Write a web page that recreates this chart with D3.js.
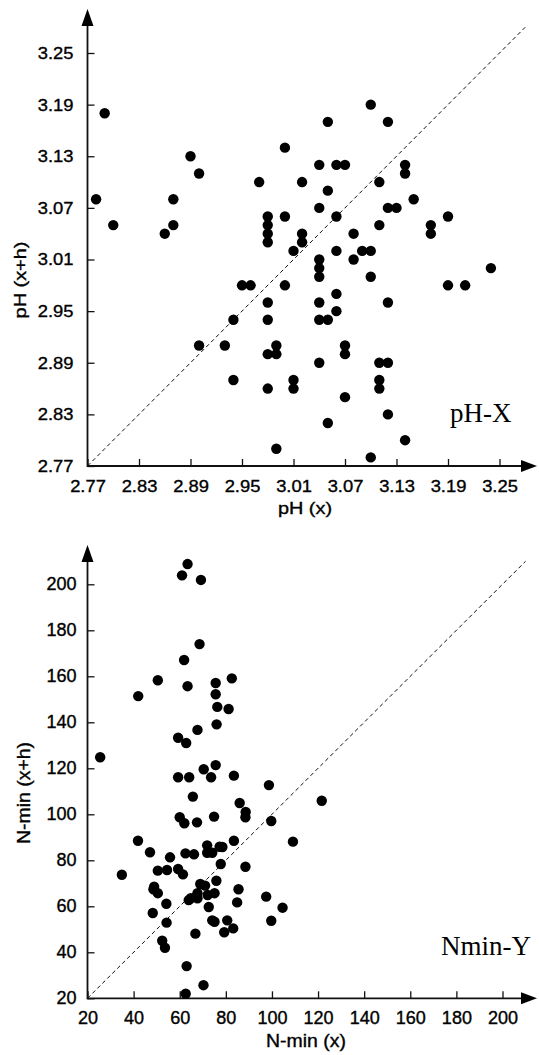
<!DOCTYPE html>
<html>
<head>
<meta charset="utf-8">
<script src="https://cdn.jsdelivr.net/npm/d3@7"></script>
<style>
  body { margin: 0; background: #fff; }
  svg { display: block; }
</style>
</head>
<body>
<div id="chart"></div>
<script>
// pH: measured value (x) vs value with lag h (x+h)
const phX  = [2.79,2.78,2.89,2.90,2.87,2.97,3.00,3.02,3.04,3.06,3.07,3.05,3.05,3.10,3.12,3.11,3.14,3.14,3.15,
              2.80,2.86,2.87,2.98,2.98,2.98,2.98,3.00,3.04,3.06,3.02,3.02,3.01,3.06,3.08,3.11,3.12,3.13,3.17,3.17,3.19,
              3.09,3.10,3.08,3.04,3.04,3.04,3.10,3.24,2.95,2.96,3.00,3.19,3.21,3.06,2.98,3.04,3.12,3.06,2.98,3.04,3.05,2.94,
              2.90,2.93,2.99,2.98,2.99,3.07,3.07,3.04,3.11,3.12,2.94,3.01,3.11,2.98,3.01,3.11,3.07,3.05,3.12,3.14,2.99,3.10];
const phXH = [3.18,3.08,3.13,3.11,3.08,3.10,3.14,3.10,3.12,3.12,3.12,3.17,3.09,3.19,3.17,3.10,3.12,3.11,3.08,
              3.05,3.04,3.05,3.06,3.05,3.04,3.03,3.06,3.07,3.06,3.04,3.03,3.02,3.02,3.04,3.05,3.07,3.07,3.05,3.04,3.06,
              3.02,3.02,3.01,3.01,3.00,2.99,2.99,3.00,2.98,2.98,2.98,2.98,2.98,2.97,2.96,2.96,2.96,2.95,2.94,2.94,2.94,2.94,
              2.91,2.91,2.91,2.90,2.90,2.91,2.90,2.89,2.89,2.89,2.87,2.87,2.87,2.86,2.86,2.86,2.85,2.82,2.83,2.80,2.79,2.78];
const phTicks = [2.77,2.83,2.89,2.95,3.01,3.07,3.13,3.19,3.25];

// N-min: measured value (x) vs value with lag h (x+h)
const nminX  = [42.0,50.5,61.0,63.4,69.2,68.6,61.9,63.4,75.6,75.6,82.6,76.3,81.2,76.0,67.7,59.3,62.8,25.5,75.6,70.4,
                59.3,64.1,73.6,83.5,98.7,121.6,65.7,86.0,88.6,88.5,60.0,62.0,67.5,74.9,99.7,41.9,83.5,109.1,47.1,55.8,
                62.5,66.2,71.9,71.9,74.1,77.3,78.5,77.8,88.5,34.9,50.5,54.5,59.3,61.4,68.9,71.0,75.9,48.9,48.6,50.5,
                67.7,67.7,63.9,64.8,72.1,75.1,85.5,84.9,97.5,104.6,48.3,54.2,72.6,54.3,74.1,75.1,80.6,99.7,83.2,79.3,
                66.8,52.4,53.6,63.0,70.3,62.6];
const nminXH = [151.4,158.3,203.9,208.8,201.9,174.0,167.1,155.7,157.1,152.2,159.1,146.7,145.8,139.1,136.7,133.3,131.0,124.8,121.4,119.6,
                116.1,116.1,116.1,116.8,112.7,105.9,107.7,104.9,101.0,98.7,98.7,96.1,96.5,99.0,97.1,88.5,88.5,88.1,83.5,81.3,
                83.0,82.6,86.5,83.3,83.3,85.9,85.8,78.4,77.2,73.7,75.5,75.8,76.2,73.9,69.7,69.0,71.1,68.5,67.4,65.7,
                65.7,63.5,62.7,63.5,64.9,65.7,67.4,61.7,64.2,59.4,57.1,61.1,59.7,52.9,53.9,53.3,53.9,53.7,50.4,48.7,
                48.1,45.0,42.0,34.0,25.7,22.0];
const nminTicks = [20,40,60,80,100,120,140,160,180,200];

const width = 539, height = 1055;
const sans = 'Liberation Sans, Arial, sans-serif';
const svg = d3.select('#chart').append('svg')
  .attr('width', width)
  .attr('height', height);

// the scanned lettering is a bit wider than Arial
function widen(sel, k) {
  sel.each(function() {
    const len = this.getComputedTextLength();
    d3.select(this).attr('textLength', len * k).attr('lengthAdjust', 'spacingAndGlyphs');
  });
}

// one scatter panel: axes with arrows, 1:1 dashed line, dots, tag
function panel(cfg) {
  const x = d3.scaleLinear().domain(cfg.domain).range([cfg.left, cfg.right]);
  const y = d3.scaleLinear().domain(cfg.domain).range([cfg.bottom, cfg.top]);
  const g = svg.append('g');

  // ticks point inwards, labels outside
  const xAxis = g.append('g')
    .attr('transform', `translate(0,${cfg.bottom})`)
    .call(d3.axisBottom(x).tickValues(cfg.ticks).tickFormat(cfg.fmt).tickSizeInner(-7).tickSizeOuter(0).tickPadding(cfg.xPad));
  const yAxis = g.append('g')
    .attr('transform', `translate(${cfg.left},0)`)
    .call(d3.axisLeft(y).tickValues(cfg.ticks).tickFormat(cfg.fmt).tickSizeInner(-7).tickSizeOuter(0).tickPadding(cfg.yPad));
  [xAxis, yAxis].forEach(a => {
    a.select('.domain').remove();
    a.selectAll('line').attr('stroke', '#111').attr('stroke-width', 1.3);
    a.selectAll('text')
      .attr('fill', '#000')
      .attr('font-family', sans)
      .attr('font-size', cfg.tickFont + 'px')
      .attr('stroke', '#000')
      .attr('stroke-width', 0.35)
      .call(widen, cfg.tickWiden);
  });

  // axis lines with arrow heads
  g.append('line')
    .attr('x1', cfg.left).attr('y1', cfg.bottom)
    .attr('x2', cfg.arrowX - 12).attr('y2', cfg.bottom)
    .attr('stroke', '#111').attr('stroke-width', 1.8);
  g.append('line')
    .attr('x1', cfg.left).attr('y1', cfg.bottom + 0.9)
    .attr('x2', cfg.left).attr('y2', cfg.arrowY + 14)
    .attr('stroke', '#111').attr('stroke-width', 1.8);
  g.append('path')
    .attr('d', `M${cfg.arrowX},${cfg.bottom} L${cfg.arrowX - 16},${cfg.bottom - 6} L${cfg.arrowX - 16},${cfg.bottom + 6} Z`)
    .attr('fill', '#000');
  g.append('path')
    .attr('d', `M${cfg.left},${cfg.arrowY} L${cfg.left - 6},${cfg.arrowY + 17} L${cfg.left + 6},${cfg.arrowY + 17} Z`)
    .attr('fill', '#000');

  // y = x reference line
  g.append('line')
    .attr('x1', x(cfg.domain[0])).attr('y1', y(cfg.domain[0]))
    .attr('x2', x(cfg.diagEnd)).attr('y2', y(cfg.diagEnd))
    .attr('stroke', '#111').attr('stroke-width', 1)
    .attr('stroke-dasharray', '4,3');

  // dots
  g.append('g').selectAll('circle')
    .data(cfg.xs.map((v, i) => [v, cfg.ys[i]]))
    .join('circle')
    .attr('cx', d => x(d[0]))
    .attr('cy', d => y(d[1]))
    .attr('r', 5.2)
    .attr('fill', '#000');

  // axis titles
  g.append('text')
    .attr('x', cfg.xTitlePos[0]).attr('y', cfg.xTitlePos[1])
    .attr('text-anchor', 'middle')
    .attr('font-family', sans)
    .attr('font-size', cfg.titleFont + 'px')
    .attr('stroke', '#000').attr('stroke-width', 0.35)
    .text(cfg.xTitle)
    .call(widen, cfg.titleWiden);
  g.append('text')
    .attr('transform', `translate(${cfg.yTitlePos[0]},${cfg.yTitlePos[1]}) rotate(-90)`)
    .attr('text-anchor', 'middle')
    .attr('font-family', sans)
    .attr('font-size', cfg.titleFont + 'px')
    .attr('stroke', '#000').attr('stroke-width', 0.35)
    .text(cfg.yTitle)
    .call(widen, cfg.titleWiden);

  // panel tag
  g.append('text')
    .attr('x', cfg.tagPos[0]).attr('y', cfg.tagPos[1])
    .attr('font-family', 'Liberation Serif, Times New Roman, serif')
    .attr('font-size', '27px')
    .text(cfg.tag);
}

panel({
  xs: phX, ys: phXH, domain: [2.77, 3.25], ticks: phTicks, fmt: d3.format('.2f'),
  left: 87.5, right: 499.5, bottom: 466, top: 53, arrowX: 537, arrowY: 9, diagEnd: 3.28,
  xPad: 14, yPad: 14, tickFont: 17, tickWiden: 1.08, titleFont: 17, titleWiden: 1.17,
  xTitle: 'pH (x)', xTitlePos: [305, 514],
  yTitle: 'pH (x+h)', yTitlePos: [26, 280],
  tag: 'pH-X', tagPos: [450, 422]
});

panel({
  xs: nminX, ys: nminXH, domain: [20, 200], ticks: nminTicks, fmt: d3.format('d'),
  left: 87.5, right: 502.5, bottom: 998.3, top: 584.3, arrowX: 537, arrowY: 545, diagEnd: 210,
  xPad: 13, yPad: 11, tickFont: 17.5, tickWiden: 1.03, titleFont: 18, titleWiden: 1.08,
  xTitle: 'N-min (x)', xTitlePos: [306, 1047],
  yTitle: 'N-min (x+h)', yTitlePos: [30, 793],
  tag: 'Nmin-Y', tagPos: [441, 955]
});
</script>
</body>
</html>
